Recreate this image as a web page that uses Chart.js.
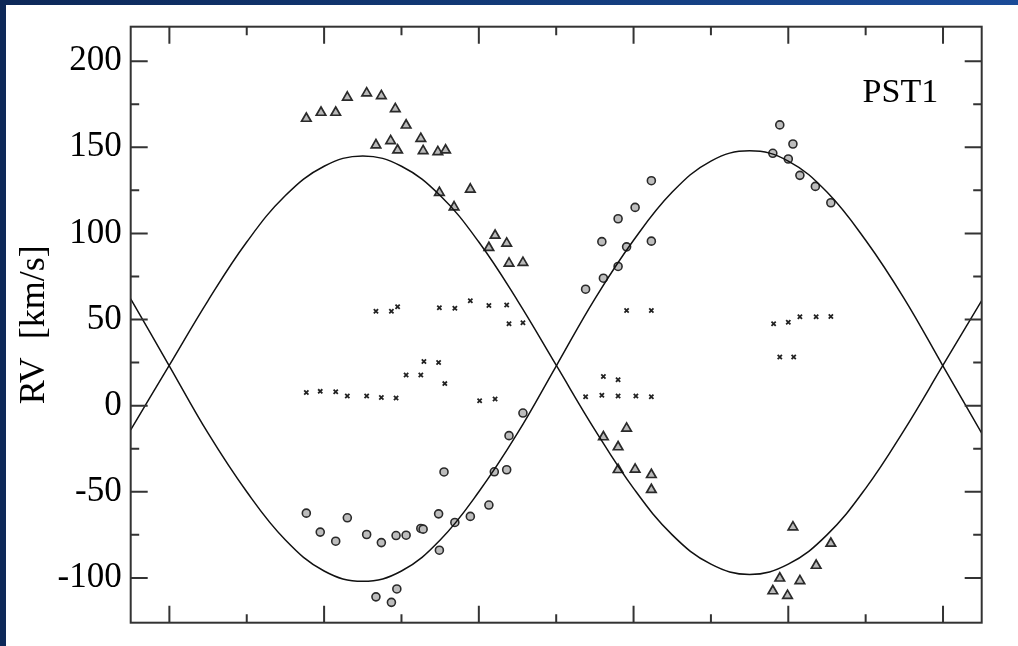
<!DOCTYPE html>
<html>
<head>
<meta charset="utf-8">
<script src="https://cdn.jsdelivr.net/npm/chart.js@4/dist/chart.umd.min.js"></script>
<style>
  html, body { margin: 0; padding: 0; }
  body {
    width: 1018px; height: 646px; position: relative; overflow: hidden;
    background: linear-gradient(90deg, #0d2858 0%, #123a78 50%, #1b4b98 100%);
  }
  #paper { position: absolute; left: 6px; top: 5px; right: 0; bottom: 0; background: #fff; }
  #rv { position: absolute; left: 0; top: 0; }
</style>
</head>
<body>
<div id="paper"></div>
<canvas id="rv" width="1018" height="646"></canvas>
<script>
// =========================
// DATA
// =========================
const triPhase = [0.177, 0.196, 0.215, 0.230, 0.255, 0.274, 0.292, 0.306, 0.325, 0.267, 0.286, 0.295,
  0.328, 0.347, 0.357, 0.349, 0.389, 0.368, 0.421, 0.436, 0.413, 0.439, 0.457,
  0.591, 0.561, 0.580, 0.580, 0.602, 0.623, 0.623,
  0.806, 0.855, 0.836, 0.789, 0.815, 0.780, 0.799];
const triRV = [166.7, 170.2, 170.2, 179.0, 181.4, 179.8, 172.3, 162.8, 155.0, 151.3, 153.7, 148.3,
  147.9, 147.3, 148.3, 123.7, 125.6, 115.3, 98.8, 94.2, 91.7, 82.6, 83.0,
  -13.2, -18.2, -24.0, -37.2, -37.0, -40.1, -48.8,
  -70.5, -80.0, -92.8, -100.2, -101.7, -107.6, -110.3];

const circPhase = [0.177, 0.195, 0.215, 0.230, 0.255, 0.274, 0.293, 0.306, 0.325, 0.328, 0.348, 0.349,
  0.355, 0.369, 0.389, 0.413, 0.420, 0.436, 0.439, 0.457, 0.267, 0.287, 0.294,
  0.623, 0.602, 0.580, 0.559, 0.623, 0.591, 0.580, 0.561, 0.538,
  0.789, 0.806, 0.780, 0.800, 0.815, 0.835, 0.855];
const circRV = [-62.4, -73.4, -78.7, -65.1, -74.8, -79.5, -75.4, -75.2, -71.3, -71.7, -62.8, -83.9,
  -38.5, -67.8, -64.3, -57.7, -38.4, -37.2, -17.4, -4.3, -111.0, -114.2, -106.4,
  130.6, 115.1, 108.5, 95.2, 95.5, 92.2, 80.8, 74.0, 67.6,
  163.0, 151.9, 146.5, 143.2, 133.7, 127.3, 117.8];

const crossPhase = [0.267, 0.287, 0.295, 0.349, 0.369, 0.389, 0.413, 0.436, 0.439, 0.457,
  0.329, 0.348, 0.306, 0.325, 0.356,
  0.177, 0.195, 0.215, 0.230, 0.255, 0.274, 0.293, 0.401, 0.421,
  0.591, 0.623, 0.561, 0.580, 0.538, 0.559, 0.580, 0.603, 0.623,
  0.781, 0.800, 0.815, 0.836, 0.855, 0.789, 0.807];
const crossRV = [54.8, 54.8, 57.4, 56.8, 56.6, 60.9, 58.1, 58.5, 47.5, 48.1,
  25.6, 25.0, 17.8, 17.8, 12.8,
  7.7, 8.3, 8.1, 5.6, 5.6, 4.8, 4.5, 2.9, 3.9,
  55.2, 55.2, 16.9, 15.1, 5.2, 6.0, 5.6, 5.6, 5.2,
  47.5, 48.4, 51.6, 51.6, 51.7, 28.3, 28.3];

// orbit solutions, read every 0.05 in phase
const fitPhase = [-0.05, 0.00, 0.05, 0.10, 0.15, 0.20, 0.25, 0.30, 0.35, 0.40, 0.45, 0.50,
  0.55, 0.60, 0.65, 0.70, 0.75, 0.80, 0.85, 0.90, 0.95, 1.00, 1.05];
const fitPrimary = [-14, 23.5, 61, 95, 122, 139, 145, 139, 122, 95, 61, 23.5,
  -14, -48, -75, -92, -98, -92, -75, -48, -14, 23.5, 61];
const fitSecondary = [62, 23, -16, -50, -78, -96, -102, -96, -78, -50, -16, 23,
  62, 96, 124, 142, 148, 142, 124, 96, 62, 23, -16];

const xMajor = [0, 0.2, 0.4, 0.6, 0.8, 1.0];
const xMinor = [0.1, 0.3, 0.5, 0.7, 0.9];
const yMajor = [-100, -50, 0, 50, 100, 150, 200];
const yMinor = [-75, -25, 25, 75, 125, 175];

const pts = (xs, ys) => xs.map((x, i) => ({ x: x, y: ys[i] }));

// =========================
// FRAME + INWARD TICKS
// =========================
const frameTicks = {
  id: "frameTicks",
  afterDatasetsDraw(chart) {
    const { ctx, chartArea: a, scales: { x, y } } = chart;
    ctx.save();
    ctx.strokeStyle = "#333";
    ctx.lineWidth = 2;
    ctx.beginPath();
    const tick = (vals, len) => {
      vals.forEach(v => {
        const px = x.getPixelForValue(v);
        ctx.moveTo(px, a.bottom); ctx.lineTo(px, a.bottom - len);
        ctx.moveTo(px, a.top); ctx.lineTo(px, a.top + len);
      });
    };
    const tickY = (vals, len) => {
      vals.forEach(v => {
        const py = y.getPixelForValue(v);
        ctx.moveTo(a.left, py); ctx.lineTo(a.left + len, py);
        ctx.moveTo(a.right, py); ctx.lineTo(a.right - len, py);
      });
    };
    tick(xMajor, 17); tick(xMinor, 8.5);
    tickY(yMajor, 17); tickY(yMinor, 8.5);
    ctx.stroke();
    ctx.strokeRect(a.left, a.top, a.right - a.left, a.bottom - a.top);

    ctx.fillStyle = "#000";
    ctx.font = '34px "Liberation Serif"';
    ctx.textAlign = "left";
    ctx.textBaseline = "alphabetic";
    ctx.fillText("PST1", x.getPixelForValue(0.896), y.getPixelForValue(176));
    ctx.restore();
  }
};

// =========================
// CHART
// =========================
new Chart(document.getElementById("rv"), {
  type: "scatter",
  data: {
    datasets: [
      {
        label: "fit 1", data: pts(fitPhase, fitPrimary), showLine: true, tension: 0.4,
        borderColor: "#111", borderWidth: 1.5, pointRadius: 0
      },
      {
        label: "fit 2", data: pts(fitPhase, fitSecondary), showLine: true, tension: 0.4,
        borderColor: "#111", borderWidth: 1.5, pointRadius: 0
      },
      {
        label: "tri", data: pts(triPhase, triRV), pointStyle: "triangle", pointRadius: 5.5,
        backgroundColor: "#b9b9b9", borderColor: "#2a2a2a", borderWidth: 1.7
      },
      {
        label: "circ", data: pts(circPhase, circRV), pointStyle: "circle", pointRadius: 4,
        backgroundColor: "#bdbdbd", borderColor: "#2a2a2a", borderWidth: 1.6
      },
      {
        label: "cross", data: pts(crossPhase, crossRV), pointStyle: "crossRot", pointRadius: 3,
        borderColor: "#222", borderWidth: 1.8
      }
    ]
  },
  options: {
    responsive: false,
    animation: false,
    layout: { padding: { left: 0, top: 26.7, right: 36.3, bottom: 23.3 } },
    plugins: { legend: { display: false }, tooltip: { enabled: false } },
    scales: {
      x: {
        type: "linear", min: -0.05, max: 1.05,
        ticks: { display: false },
        grid: { display: false, drawTicks: false },
        border: { display: false },
        afterFit: s => { s.height = 0; s.paddingLeft = 0; s.paddingRight = 0; }
      },
      y: {
        type: "linear", min: -126, max: 220,
        afterBuildTicks: s => { s.ticks = yMajor.map(v => ({ value: v })); },
        ticks: {
          padding: 9, color: "#000",
          font: { family: "Liberation Serif", size: 35 }
        },
        grid: { display: false, drawTicks: false },
        border: { display: false },
        title: {
          display: true, text: "RV  [km/s]", color: "#000",
          font: { family: "Liberation Serif", size: 36 },
          padding: { top: 13, bottom: 0 }
        },
        afterFit: s => { s.width = 130.7; s.paddingTop = 0; s.paddingBottom = 0; }
      }
    }
  },
  plugins: [frameTicks]
});
</script>
</body>
</html>
